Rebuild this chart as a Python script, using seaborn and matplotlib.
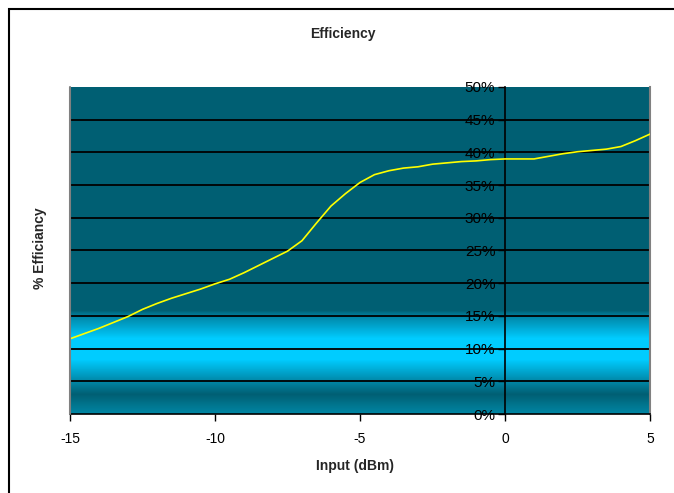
import numpy as np
import pandas as pd
import matplotlib
matplotlib.use("Agg")
import matplotlib.pyplot as plt
import seaborn as sns
from matplotlib.colors import LinearSegmentedColormap
from matplotlib.patches import Rectangle
from matplotlib.lines import Line2D

# ---- data ----
input_dbm = [-15, -14.5, -14, -13.5, -13, -12.5, -12, -11.5, -11, -10.5, -10,
             -9.5, -9, -8.5, -8, -7.5, -7, -6.5, -6, -5.5, -5, -4.5, -4, -3.5,
             -3, -2.5, -2, -1.5, -1, -0.5, 0, 0.5, 1, 1.5, 2, 2.5, 3, 3.5, 4,
             4.5, 5]
efficiency = [11.5, 12.3, 13.1, 14.0, 14.9, 16.0, 16.9, 17.7, 18.4, 19.1, 19.9,
              20.6, 21.6, 22.7, 23.8, 24.9, 26.5, 29.2, 31.8, 33.7, 35.4, 36.6,
              37.2, 37.6, 37.8, 38.2, 38.4, 38.6, 38.7, 38.9, 39.0, 39.0, 39.0,
              39.4, 39.8, 40.1, 40.3, 40.5, 40.9, 41.8, 42.8]
x_ticks = [-15, -10, -5, 0, 5]
y_ticks = [0, 5, 10, 15, 20, 25, 30, 35, 40, 45, 50]
y_tick_labels = [f"{v}%" for v in y_ticks]

df = pd.DataFrame({"Input (dBm)": input_dbm, "Efficiency": efficiency})

sns.set_theme(style="white")
plt.rcParams["font.family"] = ["Liberation Sans", "DejaVu Sans"]

W, H = 674, 493
fig = plt.figure(figsize=(W / 100, H / 100), dpi=100)
fig.patch.set_facecolor("white")
ax = fig.add_axes([70 / W, (H - 414) / H, (650 - 70) / W, (414 - 87) / H])

# background gradient (vertical, in data units of %)
dark = (0 / 255, 95 / 255, 115 / 255)
cyan = (0 / 255, 204 / 255, 255 / 255)
mid = (0 / 255, 135 / 255, 168 / 255)
bot = (0 / 255, 135 / 255, 165 / 255)
stops = [(0.0, bot), (3.0 / 50, dark), (8.3 / 50, cyan), (11.5 / 50, cyan),
         (14.8 / 50, mid), (15.8 / 50, dark), (1.0, dark)]
cmap = LinearSegmentedColormap.from_list("bg", stops, N=1024)
grad = np.linspace(0, 1, 1024).reshape(-1, 1)
ax.imshow(grad, cmap=cmap, origin="lower", aspect="auto",
          extent=[-15, 5, 0, 50], zorder=0, vmin=0, vmax=1,
          interpolation="nearest")

# grid lines
ax.hlines([v for v in y_ticks if 0 < v < 50], -15, 5, colors="black",
          linewidth=1.3, zorder=1)

sns.lineplot(data=df, x="Input (dBm)", y="Efficiency", ax=ax,
             color="#FFFF00", linewidth=1.2, zorder=3)

ax.set_xlim(-15, 5)
ax.set_ylim(0, 50)
ax.set_xticks(x_ticks)
ax.set_xticklabels([str(v) for v in x_ticks], fontsize=10)
ax.set_yticks(y_ticks)
ax.set_yticklabels(y_tick_labels, fontsize=10)

ax.spines["left"].set_position(("data", 0))
ax.spines["left"].set_color("black")
ax.spines["left"].set_linewidth(1.2)
ax.spines["left"].set_zorder(2)
ax.spines["bottom"].set_color("black")
ax.spines["bottom"].set_linewidth(1.2)
ax.spines["top"].set_visible(False)
ax.spines["right"].set_color("#808080")
ax.spines["right"].set_linewidth(1.5)
ax.add_line(Line2D([0, 0], [0, 1], transform=ax.transAxes, color="#808080",
                   linewidth=1.5, zorder=4, clip_on=False))

ax.tick_params(axis="both", which="both", direction="out", length=5,
               width=1, color="black", labelcolor="black", pad=2)
ax.tick_params(axis="x", pad=8, bottom=True)
ax.tick_params(axis="y", left=True)

ax.set_xlabel("")
ax.set_ylabel("")
fig.text(355 / W, 1 - 466 / H, "Input (dBm)", ha="center", va="center",
         fontsize=10, fontweight="bold")
fig.text(40 / W, 1 - 248 / H, "% Efficiancy", ha="center", va="center",
         rotation=90, fontsize=10, fontweight="bold")
fig.text(343 / W, 1 - 34 / H, "Efficiency", ha="center", va="center",
         fontsize=10, fontweight="bold")

# outer chart frame
fig.patches.append(Rectangle((9 / W, -0.1), 1.0, (H - 9) / H + 0.1,
                             transform=fig.transFigure, fill=False,
                             edgecolor="black", linewidth=1.5))

fig.savefig("out.png", dpi=100)
